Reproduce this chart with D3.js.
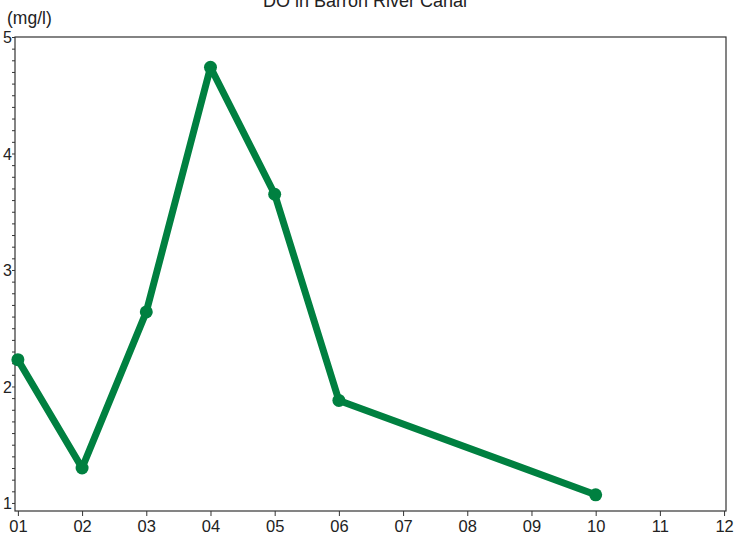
<!DOCTYPE html>
<html><head><meta charset="utf-8">
<script src="https://cdn.jsdelivr.net/npm/d3@7"></script>
<style>body{margin:0;background:#fff;}svg{display:block;font-family:"Liberation Sans",Arial,sans-serif;}</style>
</head><body><svg id="c" width="737" height="543"></svg>
<script>
const title = "DO in Barron River Canal";
const unitLabel = "(mg/l)";
const months = [1, 2, 3, 4, 5, 6, 10];
const doValues = [2.23, 1.30, 2.64, 4.74, 3.65, 1.88, 1.07];
const xTickLabels = ["01","02","03","04","05","06","07","08","09","10","11","12"];
const yTicks = [1, 2, 3, 4, 5];

(function(){
const svg = d3.select("#c");
const mL = 15, mR = 726, mT = 37, mB = 511;
const x = d3.scaleLinear().domain([0.955, 12.03]).range([mL, mR]);
const y = d3.scaleLinear().domain([0.931, 5]).range([mB, mT]);
const axisColor = "#333";

svg.append("rect").attr("x", mL).attr("y", mT).attr("width", mR-mL).attr("height", mB-mT)
  .attr("fill", "none").attr("stroke", axisColor).attr("stroke-width", 1.2);

const xa = svg.append("g").attr("transform", `translate(0,${mB})`)
  .call(d3.axisBottom(x).tickValues(d3.range(1,13)).tickFormat((d,i)=>xTickLabels[i]).tickSize(5).tickPadding(4));
xa.select(".domain").remove();
xa.selectAll("line").attr("stroke", axisColor);
xa.selectAll("text").attr("font-size", 16.5).attr("fill", "#222");

const minor = d3.range(10, 51).map(v=>v/10).filter(v=>Math.abs(v-Math.round(v))>1e-6);
const ym = svg.append("g").attr("transform", `translate(${mL},0)`)
  .call(d3.axisLeft(y).tickValues(minor).tickSize(3).tickFormat(""));
ym.select(".domain").remove();
ym.selectAll("line").attr("stroke", axisColor);

const ya = svg.append("g").attr("transform", `translate(${mL},0)`)
  .call(d3.axisLeft(y).tickValues(yTicks).tickFormat(d3.format("d")).tickSize(3).tickPadding(0));
ya.select(".domain").remove();
ya.selectAll("line").attr("stroke", axisColor);
ya.selectAll("text").attr("font-size", 16).attr("fill", "#222").attr("dy", "0.36em");

svg.append("text").attr("x", 365).attr("y", 7).attr("text-anchor", "middle")
  .attr("font-size", 18).attr("fill", "#222").text(title);
svg.append("text").attr("x", 7).attr("y", 24).attr("font-size", 17.5).attr("fill", "#222").text(unitLabel);

const data = months.map((m,i)=>({m, v: doValues[i]}));
const green = "#008040";
svg.append("path").datum(data)
  .attr("d", d3.line().x(d=>x(d.m)).y(d=>y(d.v)))
  .attr("fill", "none").attr("stroke", green).attr("stroke-width", 7).attr("stroke-linejoin", "round");
svg.selectAll("circle.pt").data(data).join("circle").attr("class","pt")
  .attr("cx", d=>x(d.m)).attr("cy", d=>y(d.v)).attr("r", 6.5).attr("fill", green);
})();
</script></body></html>
